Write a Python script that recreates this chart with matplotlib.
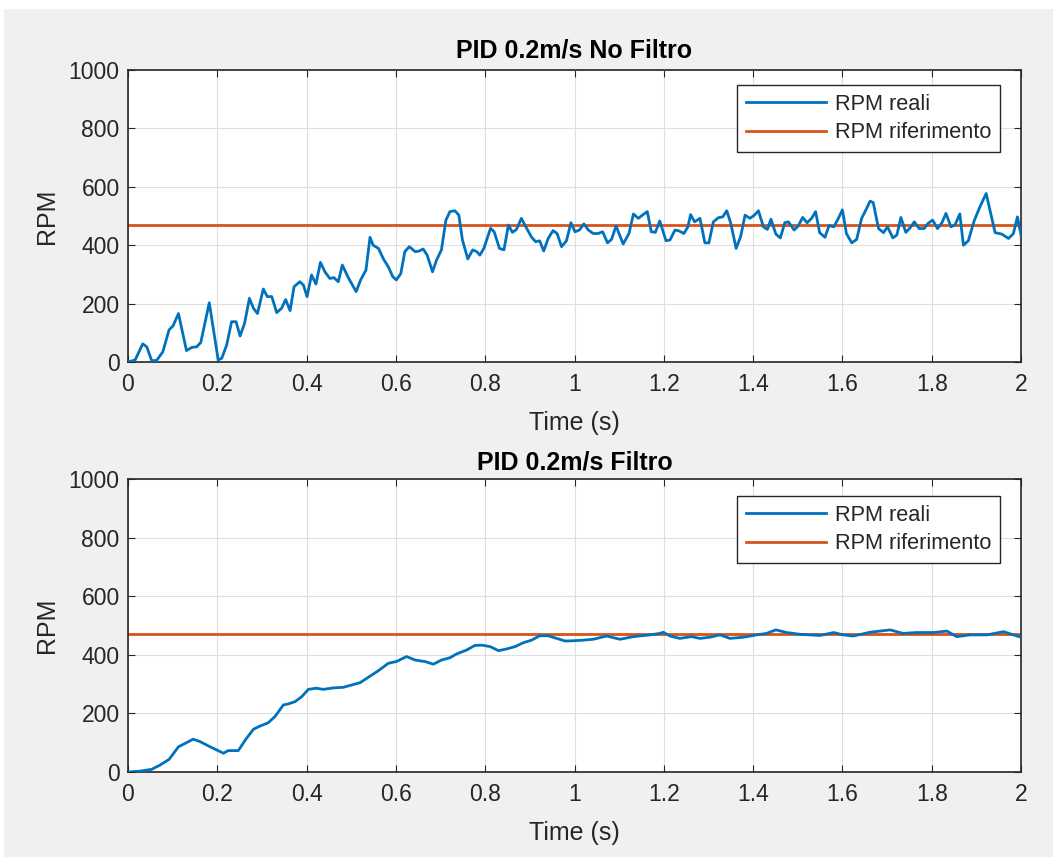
import matplotlib
matplotlib.use("Agg")
import matplotlib.pyplot as plt
from matplotlib.patches import Rectangle

plt.rcParams['font.family'] = ['Liberation Sans', 'DejaVu Sans']

# ---------------- data ----------------
time_raw = [
    0.000, 0.016, 0.033, 0.042, 0.053, 0.064, 0.078, 0.092, 0.101, 0.113,
    0.131, 0.143, 0.154, 0.163, 0.182, 0.202, 0.210, 0.221, 0.232, 0.242,
    0.251, 0.261, 0.272, 0.281, 0.290, 0.303, 0.312, 0.322, 0.333, 0.344,
    0.353, 0.363, 0.372, 0.385, 0.393, 0.401, 0.411, 0.421, 0.431, 0.441,
    0.452, 0.461, 0.471, 0.480, 0.493, 0.511, 0.521, 0.533, 0.542, 0.549,
    0.561, 0.572, 0.583, 0.593, 0.601, 0.611, 0.620, 0.630, 0.643, 0.652,
    0.661, 0.670, 0.682, 0.691, 0.702, 0.712, 0.721, 0.732, 0.741, 0.749,
    0.761, 0.772, 0.781, 0.788, 0.797, 0.812, 0.820, 0.832, 0.842, 0.852,
    0.861, 0.870, 0.881, 0.891, 0.904, 0.913, 0.922, 0.931, 0.941, 0.952,
    0.961, 0.971, 0.982, 0.992, 1.001, 1.011, 1.021, 1.031, 1.042, 1.053,
    1.063, 1.074, 1.083, 1.093, 1.109, 1.122, 1.132, 1.143, 1.152, 1.163,
    1.172, 1.181, 1.191, 1.205, 1.214, 1.225, 1.234, 1.245, 1.254, 1.260,
    1.269, 1.281, 1.292, 1.301, 1.311, 1.322, 1.332, 1.341, 1.350, 1.362,
    1.372, 1.382, 1.393, 1.403, 1.412, 1.423, 1.432, 1.440, 1.451, 1.461,
    1.471, 1.479, 1.492, 1.501, 1.511, 1.521, 1.531, 1.540, 1.549, 1.561,
    1.570, 1.581, 1.591, 1.600, 1.609, 1.621, 1.632, 1.643, 1.653, 1.662,
    1.669, 1.681, 1.692, 1.701, 1.713, 1.722, 1.731, 1.742, 1.752, 1.761,
    1.772, 1.783, 1.792, 1.802, 1.813, 1.823, 1.832, 1.843, 1.852, 1.863,
    1.871, 1.882, 1.895, 1.907, 1.922, 1.942, 1.957, 1.972, 1.983, 1.992,
    2.000,
]
rpm_raw = [
    0, 7, 62, 52, 5, 5, 35, 110, 124, 166,
    39, 50, 52, 67, 203, 7, 13, 58, 138, 138,
    89, 132, 218, 184, 166, 250, 224, 224, 169, 184,
    214, 176, 258, 275, 263, 224, 298, 267, 341, 309,
    286, 289, 275, 332, 290, 241, 281, 315, 427, 400,
    389, 353, 326, 292, 281, 303, 378, 395, 378, 380,
    387, 366, 309, 349, 384, 486, 515, 518, 503, 418,
    353, 384, 378, 366, 389, 458, 446, 389, 384, 469,
    444, 454, 492, 463, 427, 412, 415, 380, 423, 450,
    440, 395, 415, 477, 446, 452, 473, 452, 440, 440,
    446, 408, 420, 466, 404, 440, 507, 492, 503, 515,
    446, 444, 483, 415, 418, 452, 449, 440, 463, 505,
    480, 492, 408, 408, 480, 494, 497, 518, 475, 389,
    429, 503, 492, 503, 518, 463, 454, 489, 438, 425,
    477, 480, 452, 466, 495, 477, 492, 515, 443, 427,
    467, 463, 492, 521, 440, 408, 420, 492, 522, 551,
    546, 457, 443, 463, 425, 435, 495, 444, 460, 480,
    457, 457, 475, 486, 457, 477, 509, 463, 469, 507,
    400, 415, 483, 528, 577, 443, 438, 423, 440, 497,
    435,
]

time_filt = [
    0.000, 0.027, 0.053, 0.072, 0.092, 0.113, 0.131, 0.146, 0.161, 0.184,
    0.199, 0.214, 0.224, 0.247, 0.264, 0.281, 0.296, 0.314, 0.329, 0.348,
    0.358, 0.374, 0.389, 0.404, 0.422, 0.437, 0.460, 0.482, 0.501, 0.520,
    0.538, 0.561, 0.583, 0.601, 0.624, 0.643, 0.665, 0.684, 0.702, 0.721,
    0.736, 0.758, 0.777, 0.792, 0.811, 0.830, 0.848, 0.867, 0.885, 0.904,
    0.922, 0.941, 0.960, 0.979, 0.997, 1.020, 1.042, 1.072, 1.102, 1.132,
    1.169, 1.191, 1.199, 1.214, 1.236, 1.262, 1.281, 1.303, 1.326, 1.348,
    1.378, 1.408, 1.430, 1.451, 1.475, 1.505, 1.550, 1.580, 1.602, 1.624,
    1.662, 1.707, 1.736, 1.766, 1.804, 1.834, 1.856, 1.886, 1.924, 1.961,
    1.983, 2.000,
]
rpm_filt = [
    0, 3, 9, 24, 43, 86, 100, 112, 104, 86,
    75, 64, 73, 73, 112, 146, 157, 168, 189, 229,
    232, 240, 257, 282, 286, 282, 287, 289, 297, 305,
    323, 346, 371, 377, 394, 382, 377, 368, 382, 390,
    403, 416, 432, 433, 428, 414, 420, 428, 441, 450,
    465, 465, 456, 447, 448, 450, 453, 464, 453, 462,
    468, 473, 477, 464, 456, 462, 456, 460, 468, 456,
    460, 468, 473, 485, 476, 470, 466, 476, 468, 464,
    477, 485, 473, 476, 476, 481, 462, 468, 468, 479,
    468, 460,
]

ref_time = [0.0, 2.0]
ref_rpm = [470, 470]

titles = ["PID 0.2m/s No Filtro", "PID 0.2m/s Filtro"]
series_labels = ["RPM reali", "RPM riferimento"]
x_ticks = [0, 0.2, 0.4, 0.6, 0.8, 1.0, 1.2, 1.4, 1.6, 1.8, 2.0]
x_ticklabels = ["0", "0.2", "0.4", "0.6", "0.8", "1", "1.2", "1.4", "1.6", "1.8", "2"]
y_ticks = [0, 200, 400, 600, 800, 1000]

# ---------------- figure ----------------
W, H = 1059, 861
fig = plt.figure(figsize=(W / 100, H / 100), dpi=100)
fig.patch.set_facecolor("white")
fig.patches.append(Rectangle((4 / W, 1 - 857 / H), (1053 - 4) / W, (857 - 9) / H,
                             transform=fig.transFigure, facecolor="#f0f0f0",
                             edgecolor="none", zorder=-10))

BLUE = "#0072BD"
ORANGE = "#D95319"
AX = "#262626"

ax_top = fig.add_axes([128 / W, 1 - 362 / H, (1021 - 128) / W, 292 / H])
ax_bot = fig.add_axes([128 / W, 1 - 772 / H, (1021 - 128) / W, 293 / H])

panels = [
    (ax_top, time_raw, rpm_raw, 0.9486, 9),
    (ax_bot, time_filt, rpm_filt, 0.942, 7),
]

for i, (ax, t, r, legtop, tpad) in enumerate(panels):
    ax.set_facecolor("white")
    ax.plot(t, r, color=BLUE, lw=2.0, label=series_labels[0], zorder=3,
            solid_joinstyle="round")
    ax.plot(ref_time, ref_rpm, color=ORANGE, lw=2.0, label=series_labels[1], zorder=2)
    ax.set_xlim(0, 2)
    ax.set_ylim(0, 1000)
    ax.set_xticks(x_ticks)
    ax.set_xticklabels(x_ticklabels)
    ax.set_yticks(y_ticks)
    ax.grid(True, color="#dfdfdf", lw=0.8)
    ax.set_axisbelow(True)
    for s in ax.spines.values():
        s.set_color(AX)
        s.set_linewidth(1.2)
    ax.tick_params(direction="in", length=5, width=0.8, colors=AX,
                   labelsize=16.5, top=True, right=True, pad=6)
    ax.tick_params(axis="x", pad=8)
    ax.set_xlabel("Time (s)", fontsize=18, color=AX, labelpad=11)
    ax.set_ylabel("RPM", fontsize=18, color=AX, labelpad=7)
    ax.set_title(titles[i], fontsize=18, fontweight="bold", color="black", pad=tpad)
    leg = ax.legend(loc="upper right", bbox_to_anchor=(0.9765, legtop),
                    borderaxespad=0, fontsize=15.7, handlelength=3.7,
                    handletextpad=0.4, borderpad=0.4, labelspacing=0.35,
                    fancybox=False, framealpha=1, edgecolor=AX)
    leg.get_frame().set_linewidth(1.0)
    for txt in leg.get_texts():
        txt.set_color(AX)

fig.savefig("out.png", dpi=100, facecolor=fig.get_facecolor())
